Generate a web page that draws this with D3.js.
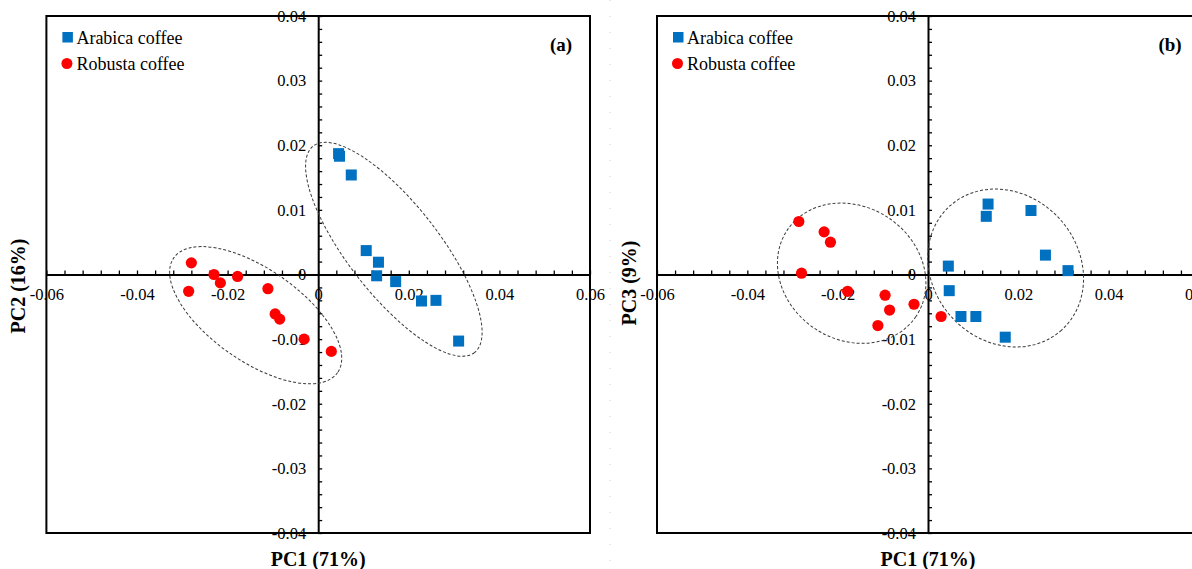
<!DOCTYPE html>
<html>
<head>
<meta charset="utf-8">
<script src="https://cdn.jsdelivr.net/npm/d3@7"></script>
<style>
  body { margin: 0; background: #fff; }
  svg { display: block; }
</style>
</head>
<body>
<div id="chart"></div>
<script>
// tick labels
const xTicks = [-0.06, -0.04, -0.02, 0, 0.02, 0.04, 0.06]
const yTicks = [-0.04, -0.03, -0.02, -0.01, 0, 0.01, 0.02, 0.03, 0.04]

const seriesNames = ['Arabica coffee', 'Robusta coffee']

// scores (PC1 shared by both panels)
const arabicaPC1 = [0.0045, 0.0047, 0.0073, 0.0106, 0.0129, 0.0133, 0.0171, 0.0228, 0.0260, 0.0310]
const arabicaPC2 = [0.0187, 0.0183, 0.0154, 0.0037, -0.0002, 0.0019, -0.0011, -0.0041, -0.0040, -0.0103]
const arabicaPC3 = [0.0013, -0.0025, -0.0065, -0.0065, 0.0090, 0.0109, -0.0097, 0.0099, 0.0030, 0.0006]

const robustaPC1 = [-0.0286, -0.0280, -0.0230, -0.0216, -0.0178, -0.0111, -0.0095, -0.0085, -0.0031, 0.0029]
const robustaPC2 = [-0.0026, 0.0018, 0.0000, -0.0013, -0.0003, -0.0022, -0.0061, -0.0069, -0.0100, -0.0119]
const robustaPC3 = [0.0082, 0.0002, 0.0066, 0.0050, -0.0026, -0.0079, -0.0032, -0.0055, -0.0046, -0.0065]

// group ellipses: centre in data units
const ellipseCentresA = [[-0.0138, -0.0063], [0.0167, 0.0039]]
const ellipseCentresB = [[-0.0169, 0.0002], [0.0172, 0.0010]]

const W = 1192, H = 569
const blue = '#0070C0', red = '#FF0000'
const serif = '"Liberation Serif", "Times New Roman", serif'

const svg = d3.select('#chart').append('svg')
  .attr('width', W)
  .attr('height', H)

svg.append('rect').attr('width', W).attr('height', H).attr('fill', '#fff')

// faint dotted separator between the two panels
svg.append('line')
  .attr('x1', 610).attr('x2', 610).attr('y1', 0).attr('y2', H)
  .attr('stroke', '#d8d8d8').attr('stroke-width', 1)
  .attr('stroke-dasharray', '1,15')

const fmt = d => d === 0 ? '0' : d.toFixed(2)

function drawPanel(opt) {
  const x = d3.scaleLinear().domain([-0.06, 0.06]).range(opt.xRange)
  const y = d3.scaleLinear().domain([-0.04, 0.04]).range([533, 16])
  const g = svg.append('g')

  // frame
  g.append('rect')
    .attr('x', x(-0.06)).attr('y', y(0.04))
    .attr('width', x(0.06) - x(-0.06)).attr('height', y(-0.04) - y(0.04))
    .attr('fill', 'none').attr('stroke', '#000').attr('stroke-width', 2)

  // x axis through origin: ticks every 0.004 pointing up
  const xMinor = d3.range(-15, 16).map(i => i * 0.004)
  const xa = g.append('g')
    .attr('transform', `translate(0,${y(0)})`)
    .call(d3.axisTop(x).tickValues(xMinor).tickSize(4).tickSizeOuter(0).tickFormat(''))
  xa.select('.domain').attr('stroke-width', 2)
  xa.selectAll('.tick line').attr('stroke-width', 1.3)

  const yMinor = d3.range(-20, 21).map(i => i * 0.002)
  const ya = g.append('g')
    .attr('transform', `translate(${x(0)},0)`)
    .call(d3.axisRight(y).tickValues(yMinor).tickSize(4).tickSizeOuter(0).tickFormat(''))
  ya.select('.domain').attr('stroke-width', 2)
  ya.selectAll('.tick line').attr('stroke-width', 1.3)

  // tick labels
  const xl = g.append('g')
    .attr('transform', `translate(0,${y(0)})`)
    .call(d3.axisBottom(x).tickValues(xTicks).tickSize(0).tickPadding(14).tickFormat(fmt))
  xl.select('.domain').remove()
  xl.selectAll('text').style('font-family', serif).style('font-size', '16.5px').attr('fill', '#000')

  const yl = g.append('g')
    .attr('transform', `translate(${x(0)},0)`)
    .call(d3.axisLeft(y).tickValues(yTicks).tickSize(0).tickPadding(12).tickFormat(fmt))
  yl.select('.domain').remove()
  yl.selectAll('text').style('font-family', serif).style('font-size', '16.5px').attr('fill', '#000')

  // ellipses
  g.selectAll('ellipse.grp')
    .data(opt.ellipses)
    .enter().append('ellipse')
    .attr('class', 'grp')
    .attr('cx', 0).attr('cy', 0)
    .attr('rx', d => d.rx).attr('ry', d => d.ry)
    .attr('transform', d => `translate(${x(d.c[0])},${y(d.c[1])}) rotate(${d.rot})`)
    .attr('fill', 'none')
    .attr('stroke', '#3a3a3a')
    .attr('stroke-width', 1)
    .attr('stroke-dasharray', '3,2')

  // points
  const arabica = opt.arabicaY.map((v, i) => ({x: arabicaPC1[i], y: v}))
  const robusta = opt.robustaY.map((v, i) => ({x: robustaPC1[i], y: v}))
  const s = 11
  g.selectAll('rect.arabica')
    .data(arabica)
    .enter().append('rect')
    .attr('class', 'arabica')
    .attr('x', d => x(d.x) - s / 2).attr('y', d => y(d.y) - s / 2)
    .attr('width', s).attr('height', s)
    .attr('fill', blue)
  g.selectAll('circle.robusta')
    .data(robusta)
    .enter().append('circle')
    .attr('class', 'robusta')
    .attr('cx', d => x(d.x)).attr('cy', d => y(d.y))
    .attr('r', 5.6)
    .attr('fill', red)

  // legend
  const lx = x(-0.06)
  g.append('rect').attr('x', lx + 16).attr('y', 32).attr('width', 10.5).attr('height', 10.5).attr('fill', blue)
  g.append('circle').attr('cx', lx + 20.5).attr('cy', 63.5).attr('r', 5.5).attr('fill', red)
  g.selectAll('text.leg')
    .data(seriesNames)
    .enter().append('text')
    .attr('class', 'leg')
    .attr('x', lx + 30)
    .attr('y', (d, i) => 43.5 + i * 26.5)
    .style('font-family', serif).style('font-size', '18px')
    .text(d => d)

  // panel letter
  g.append('text')
    .attr('x', x(0.06) - 29).attr('y', 44).attr('dy', '0.35em')
    .attr('text-anchor', 'middle')
    .style('font-family', serif).style('font-size', '19px').style('font-weight', 'bold')
    .text(opt.letter)

  // axis titles
  g.append('text')
    .attr('x', x(0)).attr('y', 559).attr('dy', '0.35em')
    .attr('text-anchor', 'middle')
    .style('font-family', serif).style('font-size', '20px').style('font-weight', 'bold')
    .text('PC1 (71%)')
  g.append('text')
    .attr('transform', `translate(${x(-0.06) - 28},${opt.yTitleY}) rotate(-90)`)
    .attr('dy', '0.35em')
    .attr('text-anchor', 'middle')
    .style('font-family', serif).style('font-size', '20px').style('font-weight', 'bold')
    .text(opt.yTitle)
}

drawPanel({
  xRange: [46.4, 590],
  arabicaY: arabicaPC2,
  robustaY: robustaPC2,
  ellipses: [
    {c: ellipseCentresA[0], rx: 100, ry: 46, rot: 35},
    {c: ellipseCentresA[1], rx: 131, ry: 45.5, rot: 52}
  ],
  letter: '(a)',
  yTitle: 'PC2 (16%)',
  yTitleY: 286
})

drawPanel({
  xRange: [657, 1199],
  arabicaY: arabicaPC3,
  robustaY: robustaPC3,
  ellipses: [
    {c: ellipseCentresB[0], rx: 77.5, ry: 66.5, rot: 34},
    {c: ellipseCentresB[1], rx: 83.5, ry: 73, rot: 48}
  ],
  letter: '(b)',
  yTitle: 'PC3 (9%)',
  yTitleY: 283
})
</script>
</body>
</html>
